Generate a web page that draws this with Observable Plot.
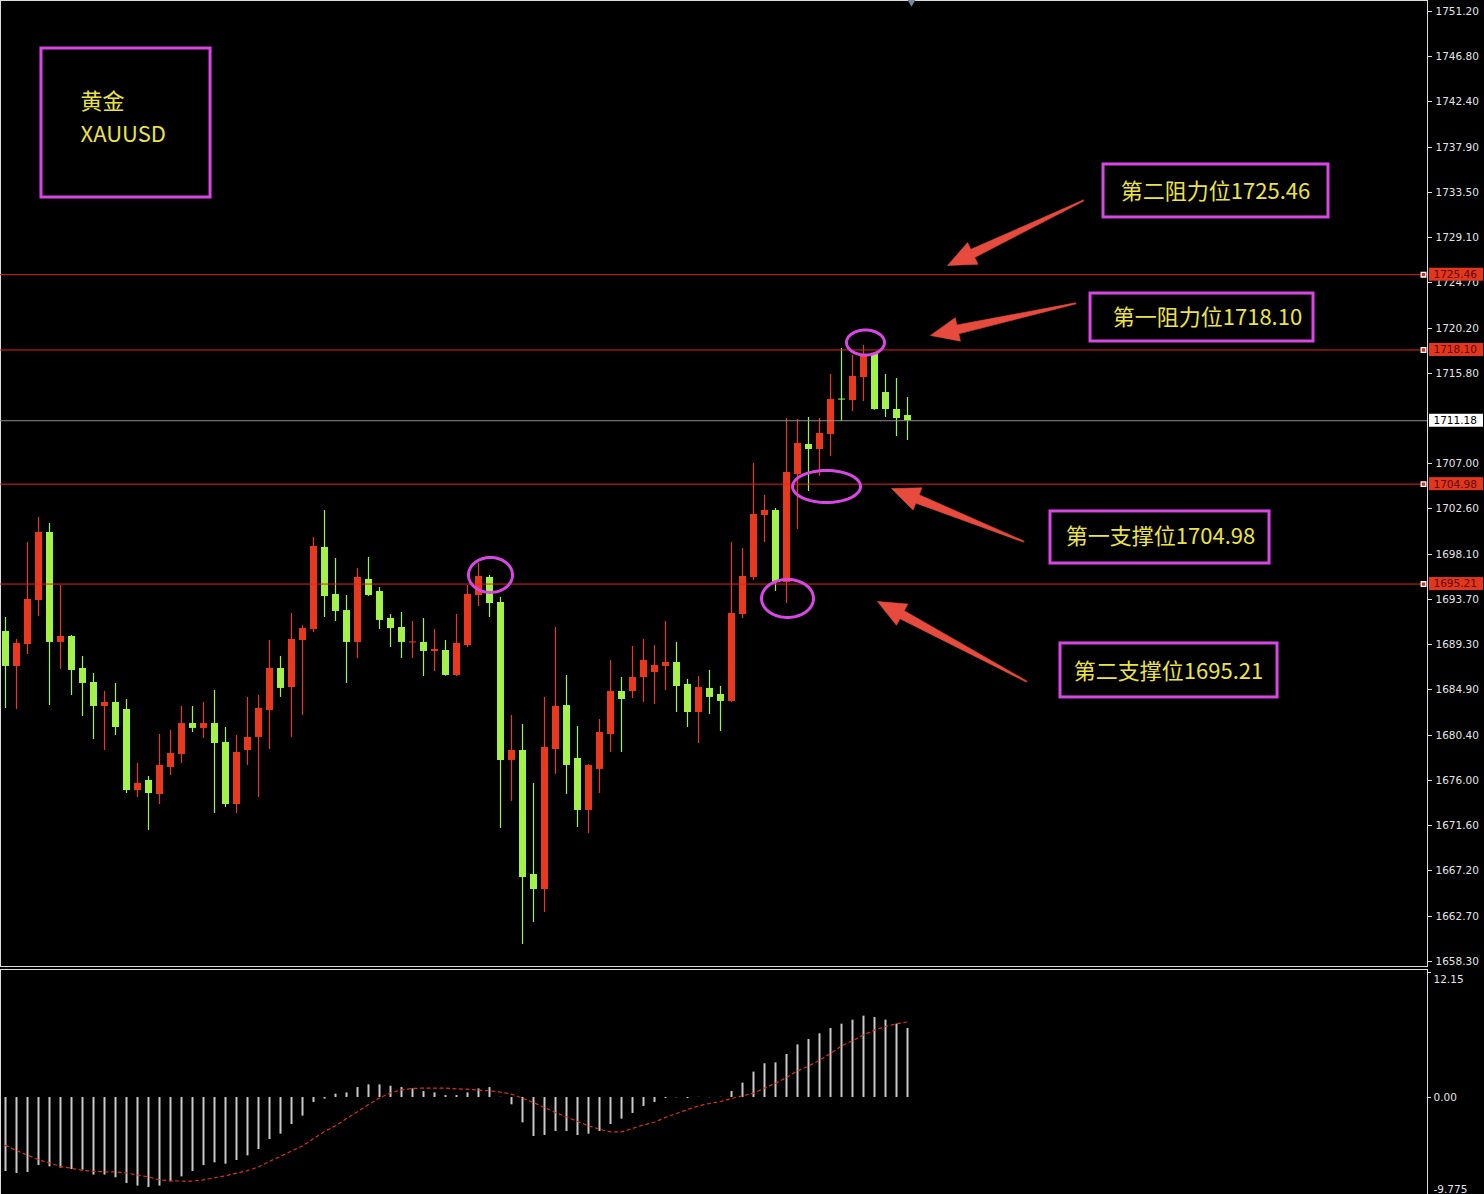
<!DOCTYPE html>
<html><head><meta charset="utf-8">
<script src="https://cdn.jsdelivr.net/npm/d3@7"></script>
<script src="https://cdn.jsdelivr.net/npm/@observablehq/plot@0.6"></script>
<style>
html,body{margin:0;padding:0;background:#000;}
#chart{width:1484px;height:1194px;overflow:hidden;background:#000;}
#chart svg{display:block;}
</style></head><body><div id="chart"></div>
<script>
// ---------------- DATA ----------------
const opens = [1690.57,1687.15,1689.30,1693.60,1700.25,1689.50,1690.08,1686.95,1685.58,1683.24,
1683.63,1682.94,1675.02,1676.00,1674.63,1677.27,1678.54,1681.57,1681.09,1681.57,
1679.72,1673.65,1678.93,1680.21,1682.85,1686.95,1685.09,1689.69,1690.77,1698.79,
1694.19,1692.62,1689.50,1695.66,1694.48,1691.84,1690.96,1689.45,1689.50,1688.62,
1688.71,1686.27,1689.20,1694.09,1695.85,1693.41,1677.96,1678.93,1666.81,1665.34,
1679.03,1683.33,1678.15,1673.07,1677.08,1680.50,1684.70,1684.70,1686.07,1686.56,
1687.15,1687.54,1685.39,1682.65,1685.00,1684.41,1683.73,1692.23,1695.85,1701.91,
1702.40,1695.36,1705.92,1708.86,1708.37,1709.84,1713.30,1713.16,1715.41,1717.76,
1713.94,1712.28,1711.69];
const highs = [1691.94,1689.79,1699.27,1701.72,1701.13,1695.07,1690.18,1688.13,1686.46,1684.70,
1685.49,1683.92,1677.66,1676.39,1680.50,1680.89,1683.24,1683.24,1683.63,1684.80,
1681.18,1680.40,1684.12,1684.31,1689.69,1688.13,1692.33,1691.16,1699.76,1702.40,
1697.71,1694.09,1696.73,1697.81,1694.87,1692.23,1692.43,1691.55,1691.84,1690.77,
1689.69,1692.23,1695.07,1697.22,1696.05,1693.90,1682.36,1681.48,1675.71,1684.12,
1690.96,1686.27,1681.28,1677.56,1681.97,1687.74,1686.07,1689.10,1689.79,1689.20,
1691.55,1689.50,1685.88,1686.17,1686.76,1685.19,1699.27,1698.69,1707.00,1703.87,
1702.60,1711.40,1711.30,1711.50,1711.40,1715.70,1718.25,1717.56,1718.54,1717.80,
1715.70,1715.31,1713.45];
const lows = [1683.04,1682.94,1688.32,1692.04,1683.33,1686.85,1684.31,1682.26,1680.01,1678.93,
1680.40,1674.73,1674.34,1671.11,1673.65,1676.49,1677.66,1680.69,1680.11,1672.77,
1673.36,1672.77,1677.47,1674.34,1679.03,1684.12,1680.21,1682.36,1690.47,1691.94,
1691.55,1685.49,1687.93,1694.00,1690.77,1689.01,1687.93,1687.93,1686.17,1686.66,
1686.20,1686.17,1689.01,1693.01,1691.94,1671.31,1673.95,1659.96,1662.11,1663.09,
1676.59,1674.63,1671.40,1670.82,1674.73,1678.74,1678.74,1684.02,1683.63,1683.43,
1684.80,1682.65,1681.18,1679.62,1682.45,1680.79,1683.63,1691.84,1695.56,1699.27,
1694.48,1693.31,1700.55,1704.26,1705.73,1707.68,1711.11,1712.08,1713.06,1712.20,
1711.50,1709.64,1709.25];
const closes = [1687.15,1689.40,1693.70,1700.25,1689.50,1690.08,1686.76,1685.49,1683.24,1683.63,
1681.18,1675.02,1675.71,1674.73,1677.47,1678.64,1681.57,1681.09,1681.57,1679.62,
1673.65,1678.74,1680.21,1683.04,1686.95,1685.00,1689.79,1690.86,1698.88,1693.99,
1692.53,1689.50,1695.85,1694.09,1691.65,1690.86,1689.50,1689.55,1688.62,1688.81,
1686.27,1689.40,1694.19,1695.95,1693.31,1677.96,1678.93,1666.51,1665.34,1679.23,
1683.24,1677.47,1673.07,1677.47,1680.69,1684.70,1683.92,1686.07,1687.74,1687.25,
1687.54,1685.19,1682.65,1685.09,1684.12,1683.73,1692.33,1695.95,1702.01,1702.40,
1695.36,1706.12,1708.96,1708.37,1709.93,1713.26,1713.22,1715.51,1717.46,1712.28,
1712.28,1711.40,1711.18];
const macdHist = [-7.19,-7.38,-7.29,-6.61,-6.74,-6.86,-7.00,-7.06,-7.54,-7.54,
-7.80,-8.36,-8.61,-8.74,-8.61,-8.19,-7.71,-7.19,-6.61,-6.35,
-6.48,-6.12,-5.67,-5.05,-4.08,-3.56,-2.62,-1.81,-0.49,-0.15,
0.33,0.45,0.97,1.23,1.23,1.10,0.97,0.84,0.58,0.45,
0.19,0.19,0.45,0.84,0.97,0.02,-0.71,-2.46,-3.79,-3.69,
-3.30,-3.30,-3.69,-3.56,-3.30,-2.62,-2.10,-1.55,-0.87,-0.49,
-0.10,-0.03,-0.10,0.02,-0.02,0.02,0.58,1.40,2.47,3.28,
3.37,4.18,5.12,5.64,6.19,6.71,7.13,7.52,7.91,7.77,
7.52,7.13,6.71];
const macdSignal = [-4.65,-5.15,-5.60,-6.05,-6.35,-6.70,-6.88,-7.08,-7.18,-7.22,
-7.22,-7.33,-7.53,-7.73,-8.00,-8.10,-8.12,-8.12,-8.00,-7.80,
-7.61,-7.35,-7.10,-6.75,-6.20,-5.73,-5.20,-4.70,-4.00,-3.30,
-2.75,-2.05,-1.38,-0.68,-0.05,0.45,0.74,0.89,0.91,0.91,
0.91,0.84,0.81,0.72,0.65,0.52,0.33,-0.06,-0.49,-0.97,
-1.46,-1.88,-2.33,-2.75,-3.08,-3.34,-3.34,-3.01,-2.66,-2.40,
-1.94,-1.55,-1.17,-0.81,-0.58,-0.39,-0.10,0.16,0.42,0.91,
1.39,1.94,2.59,3.05,3.63,4.28,5.02,5.51,6.09,6.55,
6.90,7.16,7.35];
const priceTicks = [1751.20,1746.80,1742.40,1737.90,1733.50,1729.10,1724.70,1720.20,1715.80,
1707.00,1702.60,1698.10,1693.70,1689.30,1684.90,1680.40,1676.00,1671.60,1667.20,1662.70,1658.30];
const levels = [1725.46, 1718.10, 1704.98, 1695.21];
const levelNames = ["第二阻力位", "第一阻力位", "第一支撑位", "第二支撑位"];
const lastPrice = 1711.18;
const symbolLines = ["黄金", "XAUUSD"];
const macdTicks = [12.15, 0, -9.775];

// ---------------- LAYOUT (annotation anchors in data units) ----------------
const xDomain = [-5/11, 1422/11];
const yDomain = [1657.81, 1752.276];
const kx = 1427 / (xDomain[1] - xDomain[0]);
const ky = 966 / (yDomain[1] - yDomain[0]);
const xEdge = xDomain[1];

const titleBox = [{x1: 3.27, x2: 18.64, y1: 1733.01, y2: 1747.58}];
const titleText = [{x: 6.82, y: 1742.35}, {x: 6.82, y: 1739.17}];
const labelBoxes = [
  {x1: 99.82, x2: 120.27, y1: 1731.06, y2: 1736.24, tx: 110.0, ty: 1733.60},
  {x1: 98.64, x2: 118.91, y1: 1718.93, y2: 1723.62, tx: 109.27, ty: 1721.28},
  {x1: 95.00, x2: 114.91, y1: 1697.22, y2: 1702.31, tx: 105.0, ty: 1699.86},
  {x1: 95.91, x2: 115.64, y1: 1684.12, y2: 1689.40, tx: 105.73, ty: 1686.66}
];
const arrows = [
  {t: [98.00, 1732.72], h: [85.64, 1726.36]},
  {t: [97.27, 1722.65], h: [84.09, 1719.52]},
  {t: [92.55, 1699.37], h: [80.55, 1704.55]},
  {t: [92.82, 1685.68], h: [79.27, 1693.51]}
];
const ellipses = [
  {cx: 44.09, cy: 1696.10, rx: 22, ry: 17.5},
  {cx: 78.18, cy: 1718.83, rx: 19, ry: 12.5},
  {cx: 74.64, cy: 1704.75, rx: 34, ry: 16},
  {cx: 71.09, cy: 1693.80, rx: 26, ry: 19}
];

const UP = "#e8391f", DOWN = "#a3f249", LEVEL = "#e0261a", MAG = "#d846e4", YEL = "#ece446", ARROW = "#e64b3d";

// ---------------- BUILD ----------------
const candles = d3.range(opens.length).map(i => ({
  i, open: opens[i], high: highs[i], low: lows[i], close: closes[i], up: closes[i] >= opens[i]
}));
const bodyEnd = d => Math.abs(d.close - d.open) < 0.1 ? d.open + (d.up ? 0.1 : -0.1) : d.close;

const toPx = ([x, y]) => [(x - xDomain[0]) * kx, (yDomain[1] - y) * ky];
const fromPx = ([px, py]) => [xDomain[0] + px / kx, yDomain[1] - py / ky];

const arrowPts = [];
arrows.forEach((a, k) => {
  const T = toPx(a.t), H = toPx(a.h);
  const dx = H[0] - T[0], dy = H[1] - T[1], L = Math.hypot(dx, dy);
  const u = [dx / L, dy / L], n = [-u[1], u[0]];
  const hl = 28, hw = 12, sw = 4.5, tw = 0.6;
  const B = [H[0] - u[0] * hl, H[1] - u[1] * hl];
  const shape = [
    [T[0] + n[0] * tw, T[1] + n[1] * tw],
    [B[0] + n[0] * sw, B[1] + n[1] * sw],
    [B[0] + n[0] * hw, B[1] + n[1] * hw],
    H,
    [B[0] - n[0] * hw, B[1] - n[1] * hw],
    [B[0] - n[0] * sw, B[1] - n[1] * sw],
    [T[0] - n[0] * tw, T[1] - n[1] * tw]
  ];
  shape.forEach(p => { const q = fromPx(p); arrowPts.push({id: k, x: q[0], y: q[1]}); });
});

const ellPts = [];
ellipses.forEach((e, k) => {
  d3.range(64).forEach(j => {
    const t = j / 64 * 2 * Math.PI;
    ellPts.push({id: k, x: e.cx + e.rx / kx * Math.cos(t), y: e.cy + e.ry / ky * Math.sin(t)});
  });
});

const priceChart = Plot.plot({
  width: 1484, height: 968,
  marginLeft: 0, marginRight: 57, marginTop: 0, marginBottom: 2,
  style: {background: "#000", color: "#e4e4e4", fontFamily: "DejaVu Sans", fontSize: "10.5px"},
  x: {domain: xDomain, axis: null},
  y: {domain: yDomain, axis: null},
  marks: [
    Plot.frame({stroke: "#dcdcdc"}),
    Plot.ruleX(candles.filter(d => d.up), {x: "i", y1: "low", y2: "high", stroke: UP, strokeWidth: 1.2}),
    Plot.ruleX(candles.filter(d => !d.up), {x: "i", y1: "low", y2: "high", stroke: DOWN, strokeWidth: 1.2}),
    Plot.ruleX(candles.filter(d => d.up), {x: "i", y1: "open", y2: bodyEnd, stroke: UP, strokeWidth: 7}),
    Plot.ruleX(candles.filter(d => !d.up), {x: "i", y1: "open", y2: bodyEnd, stroke: DOWN, strokeWidth: 7}),
    Plot.ruleY(levels, {y: d => d, stroke: LEVEL, strokeWidth: 1}),
    Plot.ruleY([lastPrice], {y: d => d, stroke: "#909090", strokeWidth: 1}),
    Plot.axisY(priceTicks, {anchor: "right", tickSize: 4, tickPadding: 4, tickFormat: d3.format(".2f"), label: null, fontSize: 10.5}),
    Plot.rect(levels, {x1: () => xEdge + 2 / kx, x2: () => xEdge + 56 / kx, y1: d => d - 6.5 / ky, y2: d => d + 6.5 / ky, fill: "#e3361f"}),
    Plot.text(levels, {x: () => xEdge, y: d => d, text: d3.format(".2f"), dx: 6, textAnchor: "start", fill: "#5c0a00", fontSize: 10.5}),
    Plot.dot(levels, {x: () => xEdge - 4 / kx, y: d => d, symbol: "square", r: 2.6, fill: LEVEL, stroke: "#fff", strokeWidth: 1.3}),
    Plot.rect([lastPrice], {x1: () => xEdge + 2 / kx, x2: () => xEdge + 56 / kx, y1: d => d - 6.5 / ky, y2: d => d + 6.5 / ky, fill: "#fff"}),
    Plot.text([lastPrice], {x: () => xEdge, y: d => d, text: d3.format(".2f"), dx: 6, textAnchor: "start", fill: "#000", fontSize: 10.5}),
    Plot.dot([0], {x: () => (911 - 5) / 11, y: () => yDomain[1], symbol: "triangle", rotate: 180, r: 4, fill: "#7a8896"}),
    // annotations
    Plot.rect(titleBox, {x1: "x1", x2: "x2", y1: "y1", y2: "y2", fill: "none", stroke: MAG, strokeWidth: 3}),
    Plot.text(titleText, {x: "x", y: "y", text: (d, i) => symbolLines[i], textAnchor: "start", fill: YEL, fontSize: 22, fontFamily: "Noto Sans CJK SC"}),
    Plot.rect(labelBoxes, {x1: "x1", x2: "x2", y1: "y1", y2: "y2", fill: "none", stroke: MAG, strokeWidth: 3}),
    Plot.text(labelBoxes, {x: "tx", y: "ty", text: (d, i) => levelNames[i] + levels[i].toFixed(2), fill: YEL, fontSize: 22, fontFamily: "Noto Sans CJK SC"}),
    Plot.line(arrowPts, {x: "x", y: "y", z: "id", fill: ARROW, stroke: ARROW, strokeWidth: 0.6, curve: "linear-closed"}),
    Plot.line(ellPts, {x: "x", y: "y", z: "id", stroke: MAG, strokeWidth: 3, curve: "linear-closed"})
  ]
});

const macdChart = Plot.plot({
  width: 1484, height: 226,
  marginLeft: 0, marginRight: 57, marginTop: 1, marginBottom: 0,
  style: {background: "#000", color: "#e4e4e4", fontFamily: "DejaVu Sans", fontSize: "10.5px"},
  x: {domain: xDomain, axis: null},
  y: {domain: [-9.775, 12.15], range: [229.6, 4], axis: null},
  marks: [
    Plot.frame({stroke: "#dcdcdc"}),
    Plot.ruleX(macdHist, {x: (d, i) => i, y1: 0, y2: d => d, stroke: "#c9c9c9", strokeWidth: 2}),
    Plot.line(macdSignal, {x: (d, i) => i, y: d => d, stroke: "#d8301c", strokeWidth: 1.2, strokeDasharray: "3,3.5"}),
    Plot.axisY([macdTicks[0], macdTicks[1]], {anchor: "right", tickSize: 3, tickFormat: () => "", label: null}),
    Plot.text([macdTicks[0]], {x: () => xEdge, y: d => d, text: d3.format(".2f"), dx: 6, dy: 7, textAnchor: "start", fill: "#e4e4e4", fontSize: 10.5}),
    Plot.text([macdTicks[1]], {x: () => xEdge, y: d => d, text: d3.format(".2f"), dx: 6, textAnchor: "start", fill: "#e4e4e4", fontSize: 10.5}),
    Plot.text([macdTicks[2]], {x: () => xEdge, y: d => d, text: d => String(d), dx: 6, dy: -8.6, textAnchor: "start", fill: "#e4e4e4", fontSize: 10.5})
  ]
});

const root = document.getElementById("chart");
root.appendChild(priceChart);
root.appendChild(macdChart);
</script>
</body></html>
